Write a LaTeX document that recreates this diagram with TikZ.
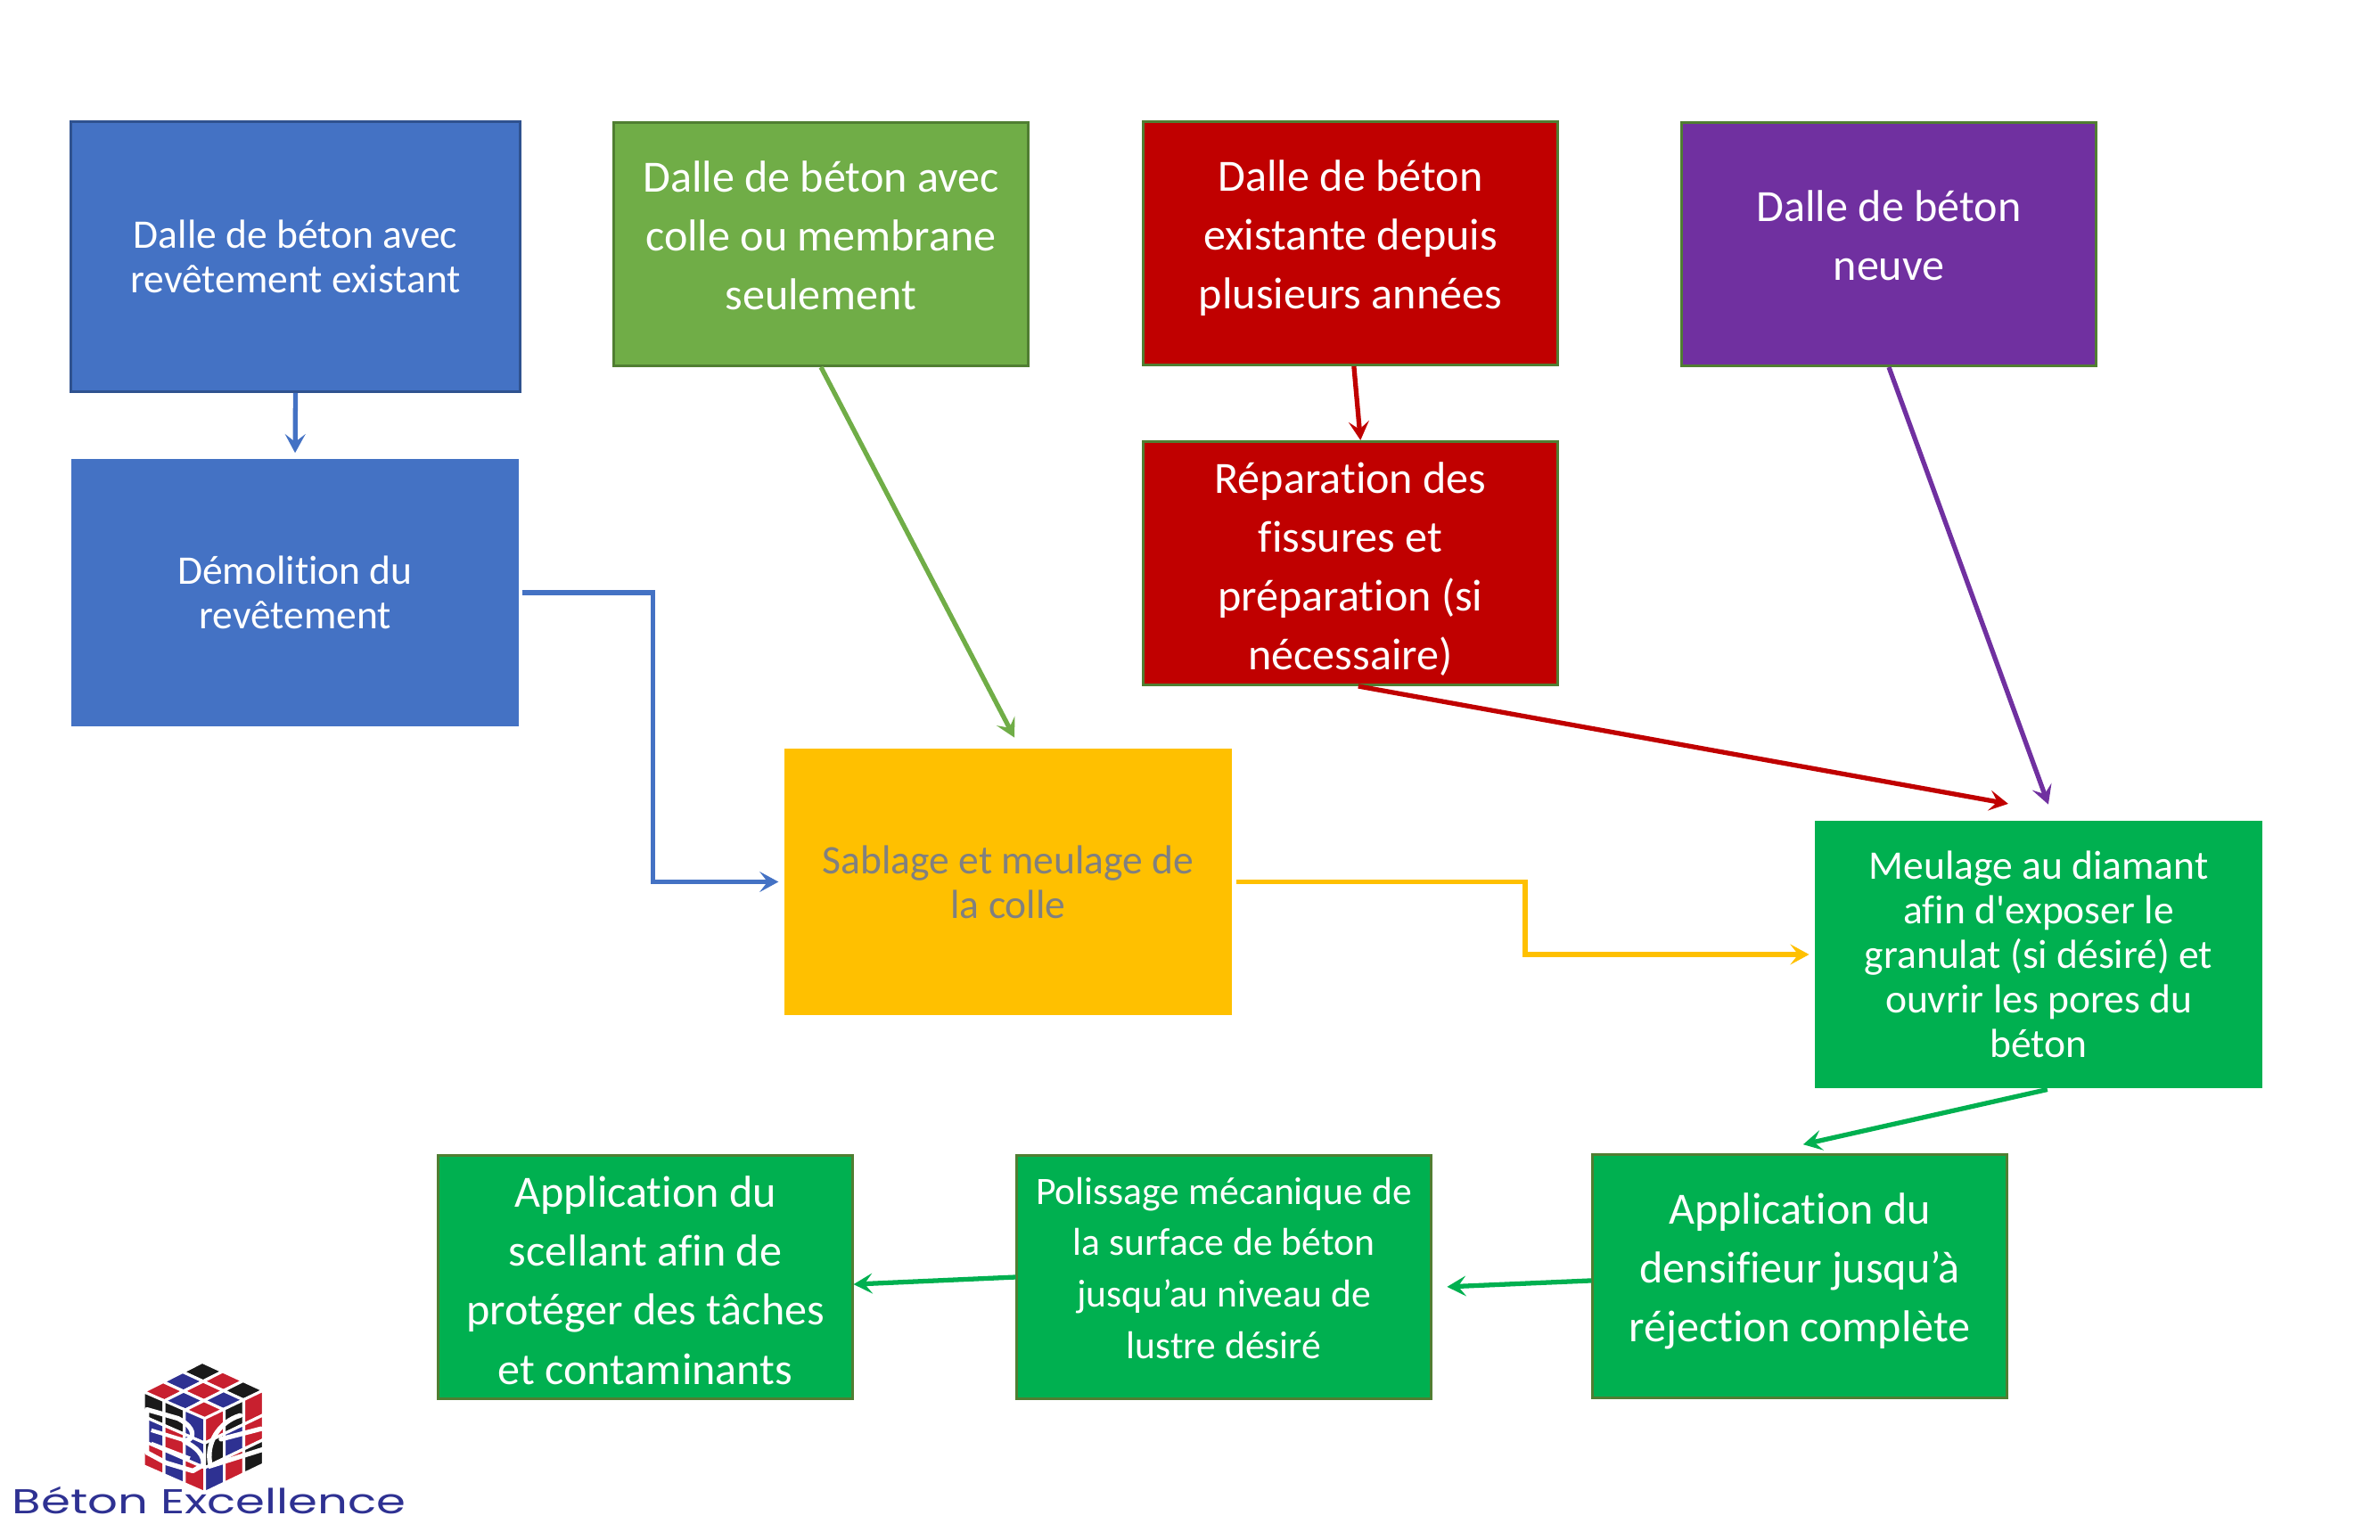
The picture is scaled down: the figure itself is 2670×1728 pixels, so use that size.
\documentclass[tikz,border=0pt]{standalone}
\usepackage{fontspec}
\setmainfont[Ligatures={CommonOff,TeXOff}]{Carlito}
\newfontfamily\logofont{Poppins}
\usetikzlibrary{arrows.meta,calc}
\definecolor{bleu}{HTML}{4472C4}
\definecolor{bleuB}{HTML}{2F528F}
\definecolor{vertC}{HTML}{70AD47}
\definecolor{vertB}{HTML}{507E32}
\definecolor{rouge}{HTML}{C00000}
\definecolor{violet}{HTML}{7030A0}
\definecolor{jaune}{HTML}{FFC000}
\definecolor{vert}{HTML}{00B050}
\definecolor{logoR}{HTML}{C8202F}
\definecolor{logoB}{HTML}{2E3192}
\definecolor{logoK}{HTML}{1A1A1A}
\tikzset{
  boite/.style={rectangle,text=white,align=center,inner sep=0pt,line width=0.8pt,
    minimum width=4.64cm,minimum height=2.73cm},
  petit/.style={font=\fontsize{12.95}{14.25}\selectfont},
  grand/.style={font=\fontsize{14.25}{18.8}\selectfont},
  fleche/.style={line width=1.5pt,-{Stealth[length=6pt,width=6.5pt,inset=2.5pt]}},
  cellule/.style={draw=white,line width=0.9pt},
}
\begin{document}
\begin{tikzpicture}[x=0.01cm,y=-0.01cm]
  \useasboundingbox (0,0) rectangle (2670,1728);
  % premiere rangee
  \node[boite,petit,fill=bleu,draw=bleuB,minimum width=5.04cm,minimum height=3.03cm] (dalleA) at (331.5,288)
    {Dalle de béton avec\\revêtement existant};
  \node[boite,petit,fill=bleu,minimum width=5.02cm,minimum height=3cm] (demo) at (331,665)
    {Démolition du\\revêtement};
  \node[boite,grand,fill=vertC,draw=vertB] (dalleB) at (921,274)
    {Dalle de béton avec\\colle ou membrane\\seulement\\[-13.3pt]};
  \node[boite,grand,fill=rouge,draw=vertB] (dalleC) at (1515,273)
    {Dalle de béton\\existante depuis\\plusieurs années\\[-13.3pt]};
  \node[boite,grand,fill=rouge,draw=vertB] (repar) at (1515,632)
    {\rule{0pt}{13.8pt}Réparation des\\fissures et\\préparation (si\\nécessaire)};
  \node[boite,grand,fill=violet,draw=vertB] (dalleD) at (2119,274)
    {Dalle de béton\\neuve\\[-13.3pt]};
  % milieu
  \node[boite,petit,fill=jaune,text=gray,minimum width=5.01cm,minimum height=2.99cm] (sablage) at (1131,989.5)
    {Sablage et meulage de\\la colle};
  \node[boite,petit,fill=vert,minimum width=5.02cm,minimum height=3cm] (meulage) at (2287,1071)
    {Meulage au diamant\\afin d'exposer le\\granulat (si désiré) et\\ouvrir les pores du\\béton};
  % derniere rangee
  \node[boite,grand,fill=vert,draw=vertB] (densif) at (2019,1432)
    {Application du\\densifieur jusqu’à\\réjection complète\\[-13.3pt]};
  \node[boite,fill=vert,draw=vertB,font=\fontsize{12.4}{16.4}\selectfont] (poli) at (1373,1433)
    {Polissage mécanique de\\la surface de béton\\jusqu’au niveau de\\lustre désiré\\[-10.4pt]};
  \node[boite,grand,fill=vert,draw=vertB] (scellant) at (724,1433)
    {\rule{0pt}{12pt}Application du\\scellant afin de\\protéger des tâches\\et contaminants};
  % fleches
  \draw[fleche,bleu,shorten >=1.5pt] (dalleA.south) -- (demo.north);
  \draw[fleche,bleu,shorten <=0.6pt,shorten >=1.6pt] (demo.east) -- ++(149,0) |- (sablage.west);
  \draw[fleche,vertC] (dalleB.south) -- ([xshift=2pt,yshift=3.1pt]sablage.north);
  \draw[fleche,rouge] ([xshift=1.1pt]dalleC.south) -- ([xshift=3.2pt]repar.north);
  \draw[fleche,rouge] ([xshift=2.5pt]repar.south) -- ([xshift=-9.7pt,yshift=5pt]meulage.north);
  \draw[fleche,violet] (dalleD.south) -- ([xshift=3.1pt,yshift=4.8pt]meulage.north);
  \draw[fleche,jaune,shorten <=1.1pt,shorten >=1.4pt] (sablage.east) -- ++(328,0) |- (meulage.west);
  \draw[fleche,vert] ([xshift=2.8pt]meulage.south) -- ([xshift=1.1pt,yshift=2.8pt]densif.north);
  \draw[fleche,vert] ([yshift=-1.4pt]densif.west) -- ([xshift=4.8pt,yshift=-3.1pt]poli.east);
  \draw[fleche,vert] (poli.west) -- ([yshift=-2.3pt]scellant.east);
  % logo
  \begin{scope}[shift={(0,1520)},x=0.00333cm,y=-0.00333cm]
    \foreach \i/\j/\c in {0/0/logoK,1/0/logoR,2/0/logoK,0/1/logoB,1/1/logoR,2/1/logoB,0/2/logoR,1/2/logoB,2/2/logoR}
      \filldraw[cellule,fill=\c] (682+68.7*\i-66*\j,25+31.7*\i+33.3*\j) -- ++(68.7,31.7) -- ++(-66,33.3) -- ++(-68.7,-31.7) -- cycle;
    \foreach \i/\j/\c in {0/0/logoK,0/1/logoB,0/2/logoR,1/0/logoK,1/1/logoR,1/2/logoB,2/0/logoB,2/1/logoB,2/2/logoR}
      \filldraw[cellule,fill=\c] (484+68.7*\i,125+30*\i+83.3*\j) -- ++(68.7,30) -- ++(0,83.3) -- ++(-68.7,-30) -- cycle;
    \foreach \i/\j/\c in {0/0/logoR,0/1/logoK,0/2/logoB,1/0/logoK,1/1/logoB,1/2/logoR,2/0/logoR,2/1/logoR,2/2/logoK}
      \filldraw[cellule,fill=\c] (690+66*\i,215-31.7*\i+83.3*\j) -- ++(66,-31.7) -- ++(0,83.3) -- ++(-66,31.7) -- cycle;
    % lettres BE
    \draw[white,line width=1.5pt,line join=round] (495,185) -- (600,215) .. controls (640,235) and (660,265) .. (640,285) -- (620,292) .. controls (660,310) and (690,340) .. (685,372) -- (650,392) -- (560,365) -- (495,330) -- cycle;
    \draw[white,line width=1.2pt] (510,255) -- (625,290) (510,300) -- (640,350);
    \draw[white,line width=1.5pt,line cap=round] (810,205) .. controls (740,225) and (690,300) .. (710,375) -- (885,320);
    \draw[white,line width=1.5pt,line cap=round] (745,285) -- (880,250);
    \node[text=logoB,font=\logofont\fontsize{11}{11}\selectfont,inner sep=0pt] (marque) at (705,490)
      {\scalebox{1.368}[1]{Béton Excellence}};
  \end{scope}
\end{tikzpicture}
\end{document}
